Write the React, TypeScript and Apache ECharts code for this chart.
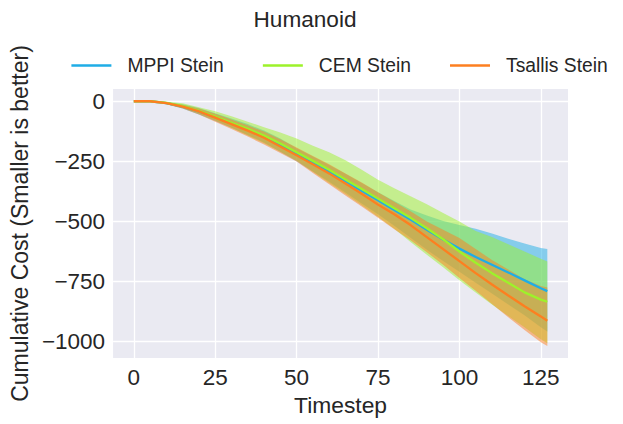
import React, { useEffect, useRef } from "react";
import * as echarts from "echarts";

// Timesteps
const timesteps = [0, 5, 10, 15, 20, 25, 30, 35, 40, 45, 50, 55, 60, 65, 70, 75, 80, 85, 90, 95, 100, 105, 110, 115, 120, 125, 127];

// MPPI Stein
const mppiMean = [0, 0, -8, -22, -42, -66, -92, -118, -147, -182, -220, -255, -292, -332, -372, -412, -452, -492, -535, -575, -613, -648, -680, -712, -745, -778, -790];
const mppiUpper = [0, 0, -3, -12, -28, -50, -72, -95, -122, -155, -195, -230, -265, -302, -340, -378, -415, -450, -475, -498, -515, -530, -550, -572, -592, -610, -615];
const mppiLower = [0, 0, -12, -30, -55, -82, -110, -140, -172, -210, -250, -292, -335, -380, -425, -470, -518, -568, -618, -665, -709, -755, -800, -845, -890, -940, -958];

// CEM Stein
const cemMean = [0, 0, -7, -20, -40, -64, -90, -115, -143, -176, -212, -248, -285, -325, -365, -405, -445, -485, -528, -574, -625, -672, -715, -755, -795, -825, -834];
const cemUpper = [0, 0, -2, -8, -25, -42, -62, -85, -108, -130, -155, -185, -212, -245, -285, -326, -362, -395, -428, -465, -500, -540, -565, -595, -625, -655, -667];
const cemLower = [0, 0, -10, -28, -52, -80, -110, -142, -175, -210, -246, -293, -340, -386, -433, -480, -530, -585, -638, -690, -745, -796, -845, -893, -940, -990, -1007];

// Tsallis Stein
const tsallisMean = [0, 0, -8, -22, -42, -68, -95, -122, -152, -188, -225, -262, -300, -342, -385, -430, -470, -515, -565, -615, -665, -715, -762, -808, -853, -895, -913];
const tsallisUpper = [0, 0, -4, -14, -30, -52, -76, -100, -126, -158, -192, -228, -262, -300, -338, -378, -418, -458, -500, -535, -569, -615, -660, -700, -740, -768, -775];
const tsallisLower = [0, 0, -12, -30, -55, -85, -115, -147, -180, -215, -251, -298, -345, -392, -438, -485, -532, -578, -628, -680, -735, -788, -843, -898, -952, -1002, -1018];

const xTicks = [0, 25, 50, 75, 100, 125];
const yTicks = [-1000, -750, -500, -250, 0];

const seriesNames = ["MPPI Stein", "CEM Stein", "Tsallis Stein"];
const colors = ["#1fade6", "#9df22a", "#fd7f20"];

const FONT = "Liberation Sans, Arial, sans-serif";
const TEXT = "#262626";

function rgba(hex: string, a: number) {
  const n = parseInt(hex.slice(1), 16);
  return `rgba(${(n >> 16) & 255},${(n >> 8) & 255},${n & 255},${a})`;
}

function band(name: string, upper: number[], lower: number[], color: string) {
  return {
    type: "custom",
    name,
    z: 1,
    silent: true,
    data: [[0, 0]],
    encode: { x: 0, y: 1 },
    renderItem: (params: any, api: any) => {
      if (params.dataIndex !== 0) return null;
      const pts: number[][] = [];
      for (let i = 0; i < timesteps.length; i++) pts.push(api.coord([timesteps[i], upper[i]]));
      for (let i = timesteps.length - 1; i >= 0; i--) pts.push(api.coord([timesteps[i], lower[i]]));
      return {
        type: "polygon",
        shape: { points: pts },
        style: { fill: rgba(color, 0.5), stroke: "none" },
      };
    },
  };
}

function line(name: string, values: number[], color: string) {
  return {
    type: "line",
    name,
    z: 3,
    data: timesteps.map((t, i) => [t, values[i]]),
    showSymbol: false,
    symbol: "none",
    lineStyle: { color, width: 2.3 },
    itemStyle: { color },
  };
}

export default function App() {
  const ref = useRef<HTMLDivElement>(null);
  useEffect(() => {
    if (!ref.current) return;
    const chart = echarts.init(ref.current, undefined, { renderer: "svg" });
    chart.setOption({
      animation: false,
      backgroundColor: "#ffffff",
      textStyle: { fontFamily: FONT, color: TEXT },
      graphic: [
        {
          type: "text",
          x: 305,
          y: 19.5,
          style: {
            text: "Humanoid",
            fontSize: 22.6,
            fontFamily: FONT,
            fill: TEXT,
            textAlign: "center",
            textVerticalAlign: "middle",
          },
        },
      ],
      legend: {
        data: seriesNames,
        left: 71.4,
        top: 56,
        padding: 0,
        icon: "rect",
        itemWidth: 40,
        itemHeight: 2.5,
        itemGap: 39,
        textStyle: { fontSize: 19.3, fontFamily: FONT, color: TEXT, padding: [0, 0, 0, 11] },
      },
      grid: {
        left: 109.3,
        right: 55,
        top: 89,
        bottom: 66,
        show: true,
        backgroundColor: "#eaeaf2",
        borderWidth: 0,
        containLabel: false,
      },
      xAxis: {
        type: "value",
        min: -6.35,
        max: 133.35,
        name: "Timestep",
        nameLocation: "middle",
        nameGap: 33,
        nameTextStyle: { fontSize: 22.8, fontFamily: FONT, color: TEXT },
        axisLine: { show: false },
        axisTick: { show: false, customValues: xTicks },
        axisLabel: {
          customValues: xTicks,
          fontSize: 22.5,
          fontFamily: FONT,
          color: TEXT,
          margin: 8,
        },
        splitLine: { show: true, lineStyle: { color: "#ffffff", width: 1.3 } },
      },
      yAxis: {
        type: "value",
        min: -1068,
        max: 51,
        name: "Cumulative Cost (Smaller is better)",
        nameLocation: "middle",
        nameGap: 81,
        nameTextStyle: { fontSize: 23, fontFamily: FONT, color: TEXT },
        axisLine: { show: false },
        axisTick: { show: false, customValues: yTicks },
        axisLabel: {
          customValues: yTicks,
          fontSize: 22.5,
          fontFamily: FONT,
          color: TEXT,
          margin: 8,
          formatter: (v: number) => String(v).replace("-", "\u2212"),
        },
        splitLine: { show: true, lineStyle: { color: "#ffffff", width: 1.3 } },
      },
      series: [
        band("MPPI band", mppiUpper, mppiLower, colors[0]),
        band("CEM band", cemUpper, cemLower, colors[1]),
        band("Tsallis band", tsallisUpper, tsallisLower, colors[2]),
        line(seriesNames[0], mppiMean, colors[0]),
        line(seriesNames[1], cemMean, colors[1]),
        line(seriesNames[2], tsallisMean, colors[2]),
      ],
    });
    return () => chart.dispose();
  }, []);
  return <div ref={ref} style={{ position: "fixed", left: 0, top: 0, width: 623, height: 424 }} />;
}
